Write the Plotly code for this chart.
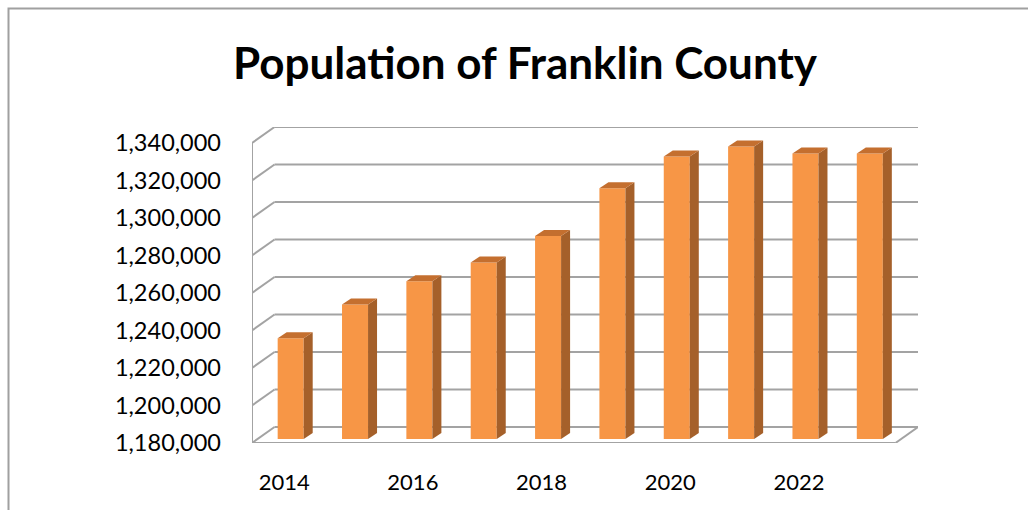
import plotly.graph_objects as go

# ---- data ----
years = [2014, 2015, 2016, 2017, 2018, 2019, 2020, 2021, 2022, 2023]
population = [1233700, 1251800, 1264200, 1274100, 1288300, 1313700, 1330700, 1336000, 1332300, 1332300]
tick_values = [1180000, 1200000, 1220000, 1240000, 1260000, 1280000, 1300000, 1320000, 1340000]
tick_text = ["1,180,000", "1,200,000", "1,220,000", "1,240,000", "1,260,000",
             "1,280,000", "1,300,000", "1,320,000", "1,340,000"]
x_tick_years = [2014, 2016, 2018, 2020, 2022]

# ---- geometry (pixels -> data units) ----
W, H = 1028, 510
PX_PER_CAT = 64.3
Y_MIN, Y_MAX = 1180000, 1340000
UNITS_PER_PX = (Y_MAX - Y_MIN) / 300.0
DEPTH_DX = 22.5 / PX_PER_CAT
DEPTH_DY = 16 * UNITS_PER_PX
BAR_DX = 6.5 / PX_PER_CAT
BAR_DY = 4 * UNITS_PER_PX
BAR_W = 26 / PX_PER_CAT
SIDE_DX = 9 / PX_PER_CAT
SIDE_DY = 6 * UNITS_PER_PX

FRONT = "#F79646"
SIDE = "#A5602A"
TOP = "#C46F2F"
GRID = "#A3A3A3"

n = len(years)
xi = list(range(n))
x_left, x_right = -0.5, n - 0.5

fig = go.Figure()

# front faces
fig.add_trace(go.Bar(
    x=[i + BAR_DX for i in xi],
    y=[v - Y_MIN for v in population],
    base=Y_MIN + BAR_DY,
    width=BAR_W,
    marker=dict(color=FRONT, line=dict(width=0)),
    hoverinfo="skip",
))

# side and top faces
for i, v in zip(xi, population):
    l = i + BAR_DX - BAR_W / 2
    r = i + BAR_DX + BAR_W / 2
    b = Y_MIN + BAR_DY
    t = v + BAR_DY
    fig.add_trace(go.Scatter(
        x=[r, r, r + SIDE_DX, r + SIDE_DX, r],
        y=[b, t, t + SIDE_DY, b + SIDE_DY, b],
        fill="toself", fillcolor=SIDE, mode="lines", line=dict(width=0, color=SIDE),
        hoverinfo="skip", showlegend=False))
    fig.add_trace(go.Scatter(
        x=[l, r, r + SIDE_DX, l + SIDE_DX, l],
        y=[t, t, t + SIDE_DY, t + SIDE_DY, t],
        fill="toself", fillcolor=TOP, mode="lines", line=dict(width=0, color=TOP),
        hoverinfo="skip", showlegend=False))

shapes = []
gl = dict(color=GRID, width=2)
# back wall gridlines + left wall diagonals
for v in tick_values:
    shapes.append(dict(type="line", xref="x", yref="y", layer="below",
                       x0=x_left + DEPTH_DX, x1=x_right + DEPTH_DX,
                       y0=v + DEPTH_DY, y1=v + DEPTH_DY, line=gl))
    shapes.append(dict(type="line", xref="x", yref="y", layer="below",
                       x0=x_left, x1=x_left + DEPTH_DX,
                       y0=v, y1=v + DEPTH_DY, line=gl))
# front left vertical edge
shapes.append(dict(type="line", xref="x", yref="y", layer="below",
                   x0=x_left, x1=x_left, y0=Y_MIN, y1=Y_MAX, line=gl))
# floor front edge and right diagonal
shapes.append(dict(type="line", xref="x", yref="y", layer="below",
                   x0=x_left, x1=x_right, y0=Y_MIN, y1=Y_MIN, line=gl))
shapes.append(dict(type="line", xref="x", yref="y", layer="below",
                   x0=x_right, x1=x_right + DEPTH_DX, y0=Y_MIN, y1=Y_MIN + DEPTH_DY, line=gl))

# chart frame border (paper coords computed from pixel frame)
ML, MR, MT, MB = 252, 110, 127, 67
pw, ph = W - ML - MR, H - MT - MB
def px_to_paper_x(p):
    return (p - ML) / pw
def px_to_paper_y(p):
    return (H - MB - p) / ph
shapes.append(dict(type="rect", xref="paper", yref="paper", layer="below",
                   x0=px_to_paper_x(8.5), x1=px_to_paper_x(W + 20),
                   y0=px_to_paper_y(H + 20), y1=px_to_paper_y(8.5),
                   line=dict(color="#A0A0A0", width=2), fillcolor="rgba(0,0,0,0)"))

fig.update_layout(
    width=W, height=H,
    margin=dict(l=ML, r=MR, t=MT, b=MB, autoexpand=False),
    paper_bgcolor="white", plot_bgcolor="rgba(0,0,0,0)",
    showlegend=False,
    shapes=shapes,
    title=dict(text="<b>Population of Franklin County</b>",
               font=dict(family="Lato", size=44, color="black"),
               x=525 / W, xanchor="center", xref="container",
               y=1 - 64 / H, yanchor="middle", yref="container"),
    font=dict(family="Lato", color="black"),
    xaxis=dict(range=[x_left, x_right + DEPTH_DX], showgrid=False, zeroline=False,
               showline=False, ticks="",
               tickvals=[years.index(y) for y in x_tick_years],
               ticktext=[str(y) for y in x_tick_years],
               tickfont=dict(family="Lato", size=22, color="black"),
               ticklabelstandoff=24, fixedrange=True),
    yaxis=dict(range=[Y_MIN, Y_MAX + DEPTH_DY], showgrid=False, zeroline=False,
               showline=False, ticks="",
               tickvals=tick_values, ticktext=tick_text,
               tickfont=dict(family="Lato", size=23.5, color="black"),
               ticklabelstandoff=30, fixedrange=True),
)

fig.write_html("out.html")
